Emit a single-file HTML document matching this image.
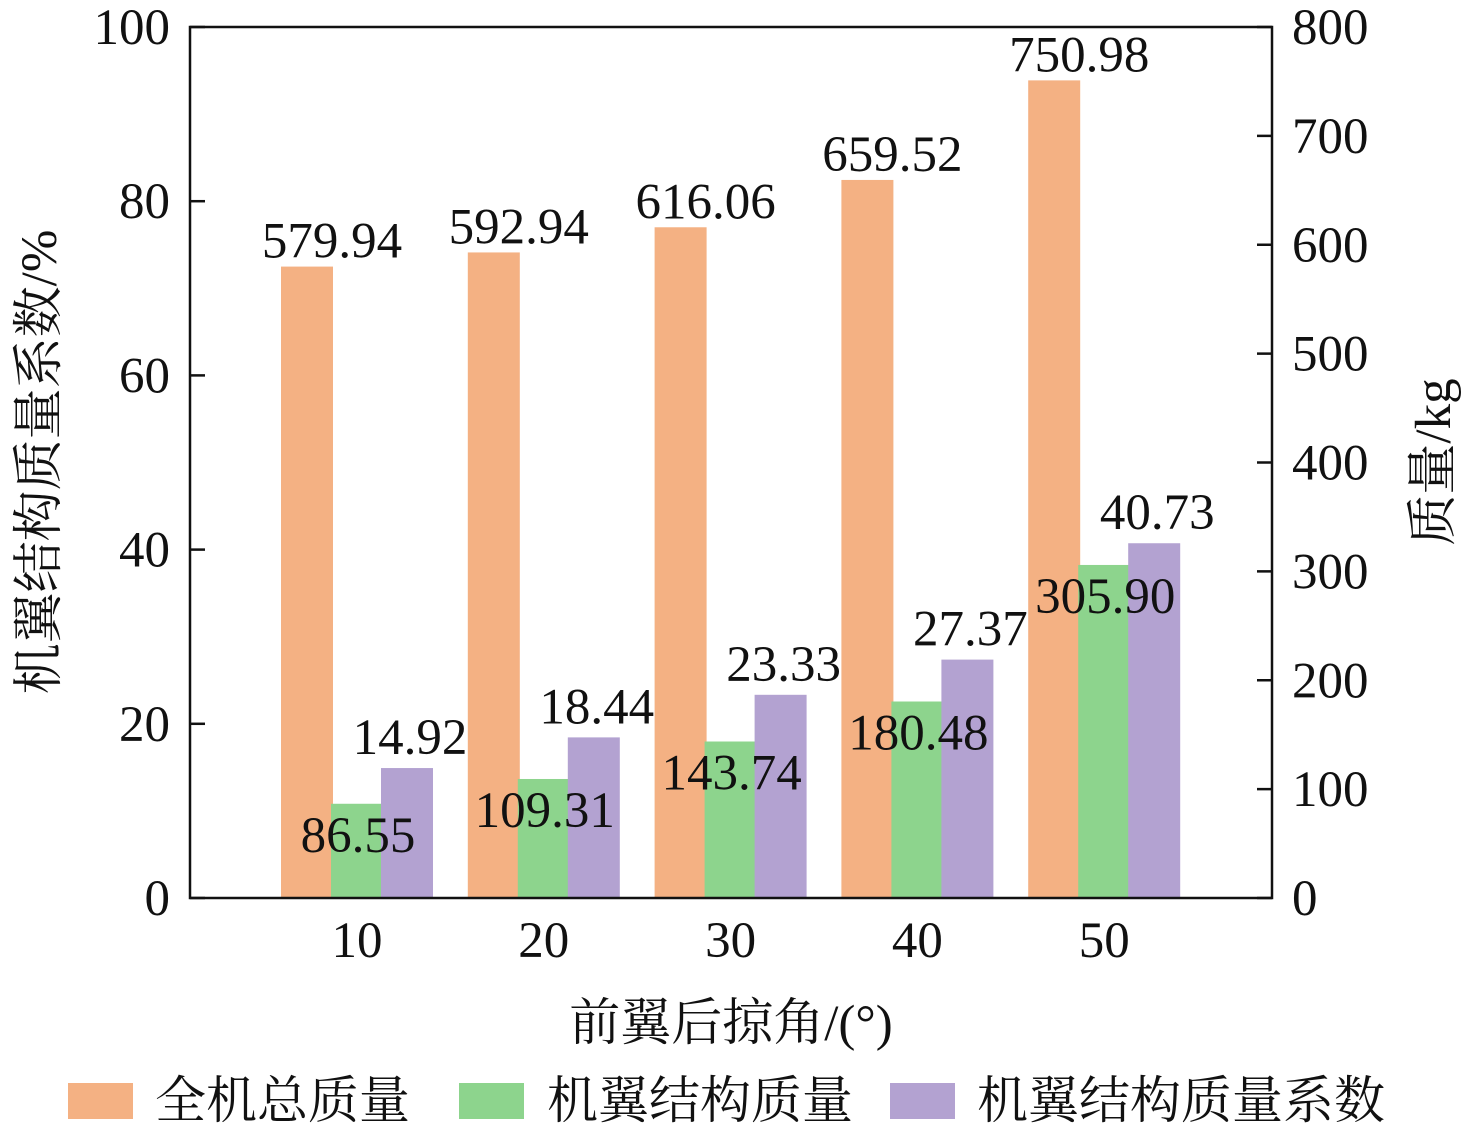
<!DOCTYPE html>
<html><head><meta charset="utf-8"><style>
body{margin:0;background:#fff;}
svg text{font-family:"Liberation Serif","Noto Serif CJK SC",serif;fill:#111;}
</style></head><body>
<svg id="c" width="1476" height="1132" xmlns="http://www.w3.org/2000/svg"></svg>
<script>
const categories=["10","20","30","40","50"];
const totalMass=[579.94,592.94,616.06,659.52,750.98];
const wingMass=[86.55,109.31,143.74,180.48,305.90];
const wingCoef=[14.92,18.44,23.33,27.37,40.73];
const leftTicks=[0,20,40,60,80,100];
const rightTicks=[0,100,200,300,400,500,600,700,800];
const totalLabels=["579.94","592.94","616.06","659.52","750.98"];
const wingLabels=["86.55","109.31","143.74","180.48","305.90"];
const coefLabels=["14.92","18.44","23.33","27.37","40.73"];

const NS="http://www.w3.org/2000/svg";
const svg=document.getElementById('c');
const L=190,R=1272,T=27,B=898;
const FS=51;
const yL=v=>B-(v/100)*(B-T);
const yR=v=>B-(v/800)*(B-T);
const xC=i=>357+i*186.8;
function el(tag,attrs,parent){const e=document.createElementNS(NS,tag);for(const k in attrs)e.setAttribute(k,attrs[k]);(parent||svg).appendChild(e);return e;}
function txt(s,x,y,size,anchor,extra){const t=el('text',Object.assign({x:x,y:y,'font-size':size,'text-anchor':anchor||'middle'},extra||{}));t.textContent=s;return t;}
const BW=52,OFF=50;
categories.forEach((c,i)=>{
  const cx=xC(i);
  let r=el('rect',{x:cx-OFF-BW/2,y:yR(totalMass[i]),width:BW,height:B-yR(totalMass[i]),fill:'#f4b183'});
  
  
  r=el('rect',{x:cx-BW/2,y:yR(wingMass[i]),width:BW,height:B-yR(wingMass[i]),fill:'#8dd48d'});
  
  
  r=el('rect',{x:cx+OFF-BW/2,y:yL(wingCoef[i]),width:BW,height:B-yL(wingCoef[i]),fill:'#b3a2d1'});
  
  
});
categories.forEach((c,i)=>{
  const cx=xC(i);
  let t=txt(totalLabels[i],cx-OFF+25,yR(totalMass[i])-9,FS);
  
  
  t=txt(wingLabels[i],cx+1,yR(wingMass[i])+48,FS);
  
  
  t=txt(coefLabels[i],cx+OFF+3,yL(wingCoef[i])-14,FS);
  
  
  t=txt(c,cx,957,FS);
  
  
});
const frame=el('rect',{x:L,y:T,width:R-L,height:B-T,fill:'none',stroke:'#111','stroke-width':2.5});


leftTicks.forEach(v=>{
  el('line',{x1:L,x2:L+15,y1:yL(v),y2:yL(v),stroke:'#111','stroke-width':2.5});
  const t=txt(String(v),170,yL(v)+17,FS,'end');
  
  
});
rightTicks.forEach(v=>{
  el('line',{x1:R-15,x2:R,y1:yR(v),y2:yR(v),stroke:'#111','stroke-width':2.5});
  const t=txt(String(v),1292,yR(v)+17,FS,'start');
  
  
});
let t=txt('机翼结构质量系数/%',0,0,FS,'middle',{transform:'translate(56,462) rotate(-90)'});


t=txt('质量/kg',0,0,FS,'middle',{transform:'translate(1450,462) rotate(-90)'});


t=txt('前翼后掠角/(°)',731,1040,FS);


const legend=[['全机总质量','#f4b183',68,155],['机翼结构质量','#8dd48d',459,547],['机翼结构质量系数','#b3a2d1',890,977]];
legend.forEach((l,i)=>{
  const g=el('g',{});
  
  
  el('rect',{x:l[2],y:1083,width:65,height:36,fill:l[1]},g);
  const tt=el('text',{x:l[3],y:1118,'font-size':FS},g);tt.textContent=l[0];
});
</script>
</body></html>
